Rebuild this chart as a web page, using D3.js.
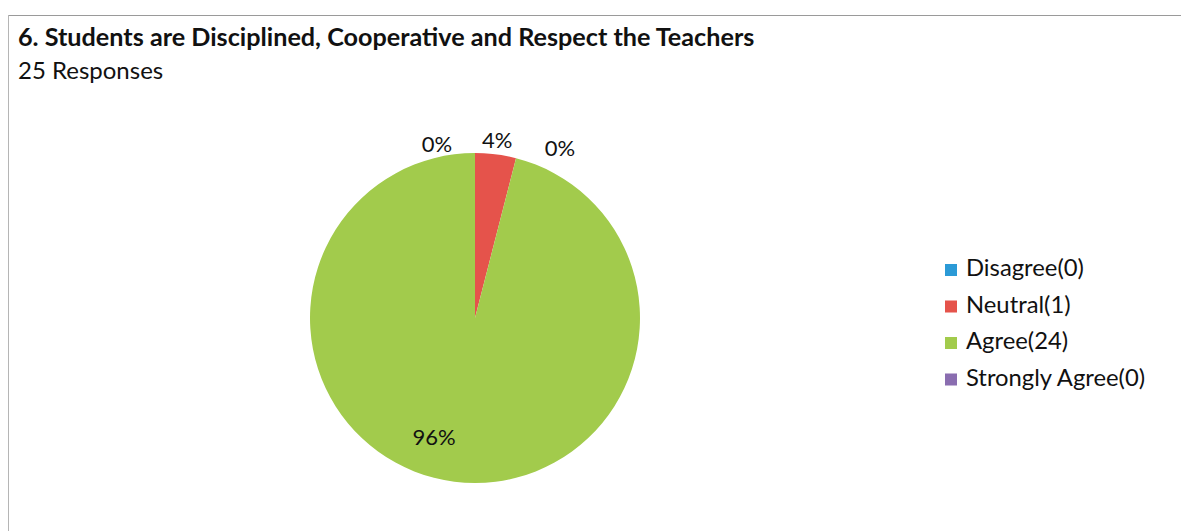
<!DOCTYPE html>
<html><head><meta charset="utf-8">
<script src="https://cdn.jsdelivr.net/npm/d3@7"></script>
<style>body{margin:0;background:#fff}svg{display:block}</style>
</head><body>
<svg id="c" width="1181" height="531"></svg>
<script>
const categories = ["Disagree", "Neutral", "Agree", "Strongly Agree"];
const counts = [0, 1, 24, 0];
const percentLabels = ["0%", "4%", "96%", "0%"];
const colors = ["#2b9ad6", "#e5534b", "#a2cb4c", "#8a6db0"];
const title = "6. Students are Disciplined, Cooperative and Respect the Teachers";
const subtitle = "25 Responses";

const svg = d3.select("#c");
const font = "Lato, 'Open Sans', sans-serif";

// frame
svg.append("line").attr("x1", 8).attr("x2", 1181).attr("y1", 15.5).attr("y2", 15.5).attr("stroke", "#9a9a9a").attr("stroke-width", 1.2);
svg.append("line").attr("x1", 8.5).attr("x2", 8.5).attr("y1", 15).attr("y2", 531).attr("stroke", "#b5b5b5").attr("stroke-width", 1);

svg.append("text").attr("x", 18).attr("y", 46).attr("font-family", font).attr("font-weight", 700)
  .attr("font-size", 25.2).attr("fill", "#111").text(title);
svg.append("text").attr("x", 18).attr("y", 79).attr("font-family", font)
  .attr("font-size", 24).attr("fill", "#111").text(subtitle);

const cx = 475, cy = 318, r = 165;
const pie = d3.pie().sort(null).value(d => d)(counts);
const arc = d3.arc().innerRadius(0).outerRadius(r);
const g = svg.append("g").attr("transform", `translate(${cx},${cy})`);
g.selectAll("path").data(pie).join("path").attr("d", arc).attr("fill", (d, i) => colors[i]);

// label placement: radius and nudges per slice
const labelRadius = [180, 177, 128, 180];
const labelDx = [-38, 0, 0, 85];
const labelDy = [8, 0, 0, 12];
const labelAngleShift = [0, 0, 0.2, 0];
g.selectAll("text.lbl").data(pie).join("text").attr("class", "lbl")
  .attr("font-family", font).attr("font-size", 22).attr("fill", "#111").attr("text-anchor", "middle")
  .attr("dominant-baseline", "middle")
  .attr("x", (d, i) => { const a = (d.startAngle + d.endAngle) / 2 + labelAngleShift[i]; return Math.sin(a) * labelRadius[i] + labelDx[i]; })
  .attr("y", (d, i) => { const a = (d.startAngle + d.endAngle) / 2 + labelAngleShift[i]; return -Math.cos(a) * labelRadius[i] + labelDy[i]; })
  .text((d, i) => percentLabels[i]);

// legend
const leg = svg.append("g").attr("transform", "translate(945,270)");
const rowH = 36.5;
categories.forEach((c, i) => {
  leg.append("rect").attr("x", 0).attr("y", i * rowH - 6).attr("width", 12).attr("height", 12).attr("fill", colors[i]);
  leg.append("text").attr("x", 21).attr("y", i * rowH).attr("dominant-baseline", "middle")
    .attr("font-family", font).attr("font-size", 23.8).attr("fill", "#111").text(`${c}(${counts[i]})`);
});
</script>
</body></html>
